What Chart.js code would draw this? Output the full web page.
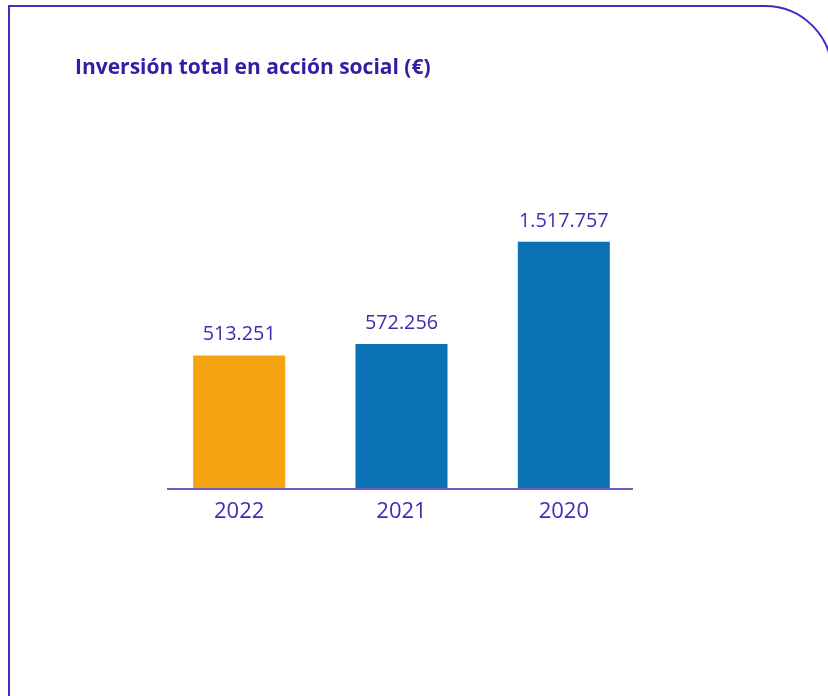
<!DOCTYPE html>
<html>
<head>
<meta charset="utf-8">
<script src="https://cdn.jsdelivr.net/npm/chart.js@4.4.1/dist/chart.umd.min.js"></script>
<style>
  html, body { margin: 0; padding: 0; background: #ffffff; overflow: hidden; }
  #wrap { position: relative; width: 828px; height: 696px; }
  canvas { display: block; }
</style>
</head>
<body>
<div id="wrap"><canvas id="c" width="828" height="696"></canvas></div>
<script>
const categories = ['2022', '2021', '2020'];
const investment = [513251, 572256, 1517757];
const barColors = ['#F5A311', '#0A72B5', '#0A72B5'];
const chartTitle = 'Inversión total en acción social (€)';

const TEXT_COLOR = '#3a2eb4';
const FRAME_COLOR = '#3d2fc6';

function formatES(v) {
  return String(v).replace(/\B(?=(\d{3})+(?!\d))/g, '.');
}

const framePlugin = {
  id: 'frame',
  beforeDraw(chart) {
    const ctx = chart.ctx;
    ctx.save();
    ctx.fillStyle = '#ffffff';
    ctx.fillRect(0, 0, chart.width, chart.height);
    ctx.strokeStyle = FRAME_COLOR;
    ctx.lineWidth = 2;
    ctx.beginPath();
    ctx.moveTo(9, chart.height + 5);
    ctx.lineTo(9, 6);
    ctx.lineTo(765, 6);
    ctx.arc(765, 73, 67, -Math.PI / 2, 0);
    ctx.stroke();
    ctx.fillStyle = '#2f1fa6';
    ctx.font = 'bold 21px "Open Sans", "Noto Sans", sans-serif';
    ctx.textBaseline = 'alphabetic';
    ctx.textAlign = 'left';
    ctx.fillText(chartTitle, 75, 74);
    ctx.restore();
  }
};

const labelPlugin = {
  id: 'barLabels',
  afterDatasetsDraw(chart) {
    const ctx = chart.ctx;
    const area = chart.chartArea;
    ctx.save();
    // baseline axis line
    ctx.strokeStyle = '#6b5cc6';
    ctx.lineWidth = 2;
    ctx.beginPath();
    ctx.moveTo(area.left + 9, area.bottom + 1);
    ctx.lineTo(area.right - 12, area.bottom + 1);
    ctx.stroke();
    // value labels
    ctx.fillStyle = TEXT_COLOR;
    ctx.font = '19.8px "Open Sans", "Noto Sans", sans-serif';
    ctx.textAlign = 'center';
    ctx.textBaseline = 'alphabetic';
    const meta = chart.getDatasetMeta(0);
    meta.data.forEach((bar, i) => {
      ctx.fillText(formatES(chart.data.datasets[0].data[i]), bar.x, bar.y - 15);
    });
    ctx.restore();
  }
};

new Chart(document.getElementById('c'), {
  type: 'bar',
  data: {
    labels: categories,
    datasets: [{
      data: investment,
      backgroundColor: barColors,
      borderWidth: 0,
      categoryPercentage: 1.0,
      barPercentage: 0.567
    }]
  },
  options: {
    responsive: false,
    animation: false,
    devicePixelRatio: 1,
    layout: { padding: { left: 158, right: 183, top: 130, bottom: 168 } },
    plugins: {
      legend: { display: false },
      tooltip: { enabled: false },
      title: { display: false }
    },
    scales: {
      x: {
        grid: { display: false, drawTicks: false },
        border: { display: false },
        ticks: {
          color: '#3b2fb8',
          font: { family: '"Open Sans", "Noto Sans", sans-serif', size: 22, weight: 400 },
          padding: 11
        },
        afterFit(scale) { scale.height = 40; }
      },
      y: {
        type: 'logarithmic',
        display: false,
        min: 145000,
        max: 4400000
      }
    }
  },
  plugins: [framePlugin, labelPlugin]
});
</script>
</body>
</html>
